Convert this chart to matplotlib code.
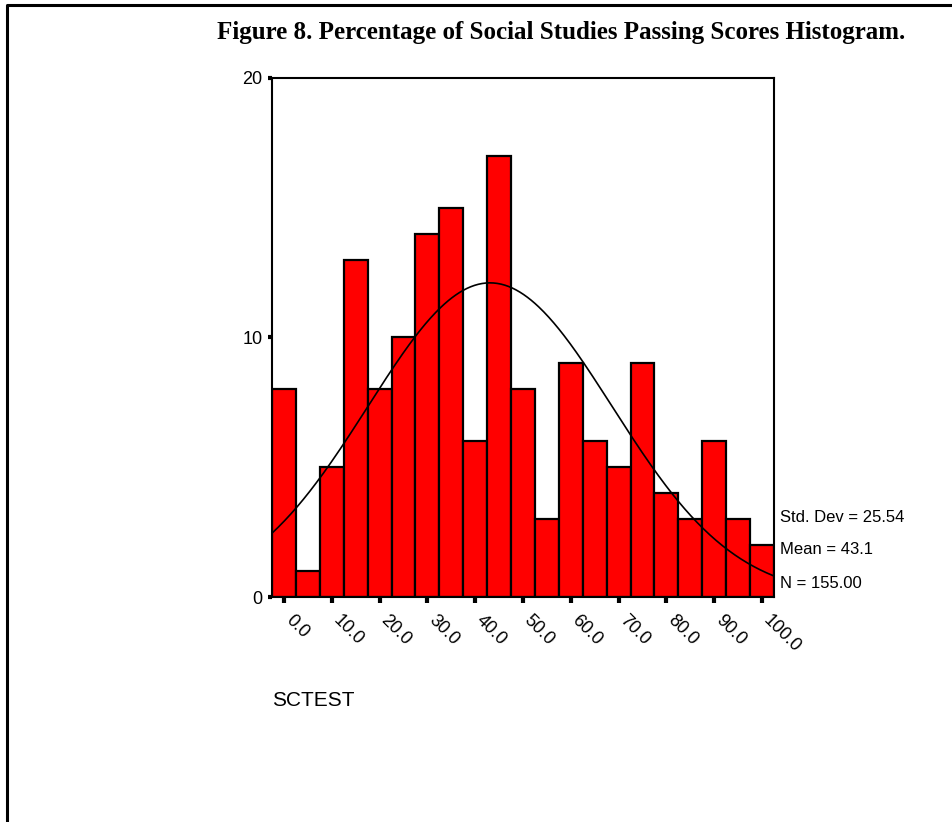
import numpy as np
import matplotlib
matplotlib.use('Agg')
import matplotlib.pyplot as plt
from matplotlib.lines import Line2D
from matplotlib.transforms import ScaledTranslation

# SCTEST frequencies, bins of width 5 centred on 0, 5, ..., 100
bin_centers = np.arange(0, 101, 5)
counts = [8, 1, 5, 13, 8, 10, 14, 15, 6, 17, 8, 3, 9, 6, 5, 9, 4, 3, 6, 3, 2]
std_dev = 25.54
mean = 43.1
n_cases = 155
bin_width = 5

tick_vals = np.arange(0, 101, 10)
tick_labels = ['%.1f' % v for v in tick_vals]

plt.rcParams['font.family'] = ['Liberation Sans', 'DejaVu Sans']

W, H = 953, 822
fig = plt.figure(figsize=(W / 100, H / 100), dpi=100)
ax = fig.add_axes([272 / W, 1 - 597 / H, 502 / W, 519 / H])

ax.bar(bin_centers, counts, width=bin_width, color='#ff0000',
       edgecolor='black', linewidth=1.6, zorder=2)

# fitted normal curve
xs = np.linspace(-2.5, 102.5, 400)
ys = n_cases * bin_width / (std_dev * np.sqrt(2 * np.pi)) * \
    np.exp(-0.5 * ((xs - mean) / std_dev) ** 2)
ax.plot(xs, ys, color='black', linewidth=1.2, zorder=3)

ax.set_xlim(-2.5, 102.5)
ax.set_ylim(0, 20)
for s in ax.spines.values():
    s.set_linewidth(1.5)

ax.set_yticks([0, 10, 20])
ax.set_yticklabels(['0', '10', '20'], fontsize=13)
ax.tick_params(axis='y', direction='out', length=3, width=3, pad=4)

ax.set_xticks(tick_vals)
ax.set_xticklabels(tick_labels, fontsize=13, rotation=-45,
                   ha='left', va='top', rotation_mode='anchor')
ax.tick_params(axis='x', direction='out', length=4, width=3, pad=8)
shift = ScaledTranslation(10 / 100, 2 / 100, fig.dpi_scale_trans)
for lbl in ax.get_xticklabels():
    lbl.set_transform(lbl.get_transform() + shift)

fig.text(217 / W, 1 - 32 / H,
         'Figure 8. Percentage of Social Studies Passing Scores Histogram.',
         family='Liberation Serif', weight='bold', fontsize=18,
         ha='left', va='center')

fig.text(780 / W, 1 - 518 / H, 'Std. Dev = %.2f' % std_dev, fontsize=12,
         va='center', ha='left')
fig.text(780 / W, 1 - 550 / H, 'Mean = %.1f' % mean, fontsize=12,
         va='center', ha='left')
fig.text(780 / W, 1 - 583 / H, 'N = %.2f' % n_cases, fontsize=12,
         va='center', ha='left')

fig.text(272 / W, 1 - 700 / H, 'SCTEST', fontsize=15, va='center', ha='left')

# page frame
fig.add_artist(Line2D([6.5 / W, 6.5 / W, 1.0], [0.0, 1 - 5.5 / H, 1 - 5.5 / H],
                      transform=fig.transFigure, color='black', linewidth=2.2))

fig.savefig('out.png', dpi=100)
